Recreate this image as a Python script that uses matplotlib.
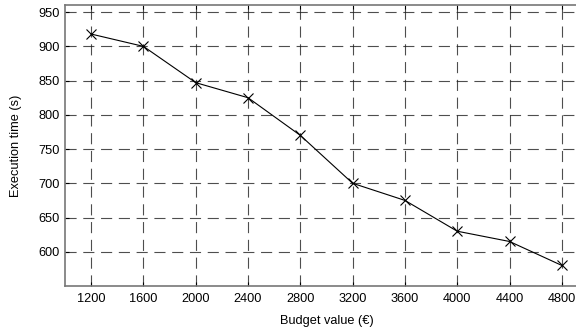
import matplotlib
matplotlib.use('Agg')
import matplotlib.pyplot as plt

plt.rcParams['font.family'] = ['Liberation Sans', 'DejaVu Sans']

# budget values and measured execution times
budget = [1200, 1600, 2000, 2400, 2800, 3200, 3600, 4000, 4400, 4800]
exec_time = [918, 900, 847, 825, 770, 700, 675, 630, 615, 580]
yticks = [600, 650, 700, 750, 800, 850, 900, 950]

fig = plt.figure(figsize=(5.76, 3.31), dpi=100)
ax = fig.add_axes([0.1128, 0.136, 0.908, 0.848])

ax.plot(budget, exec_time, color='black', lw=0.8, marker='x', ms=7, mew=0.8)

ax.set_xlim(1000, 5000)
ax.set_ylim(550, 960)
ax.set_xticks(budget)
ax.set_yticks(yticks)
ax.grid(True, color='#222222', ls=(0, (10, 6)), lw=0.8, alpha=0.8)
ax.tick_params(direction='in', length=3, width=0.8, labelsize=9.2,
               top=True, colors='black')
ax.tick_params(axis='x', pad=5)
for side in ['left', 'bottom', 'top']:
    ax.spines[side].set_color('#777777')
    ax.spines[side].set_linewidth(1.2)
ax.spines['right'].set_visible(False)

ax.set_xlabel('Budget value (€)', fontsize=9.2, labelpad=7)
ax.set_ylabel('Execution time (s)', fontsize=9.2, labelpad=12)

fig.savefig('out.png', dpi=100)
